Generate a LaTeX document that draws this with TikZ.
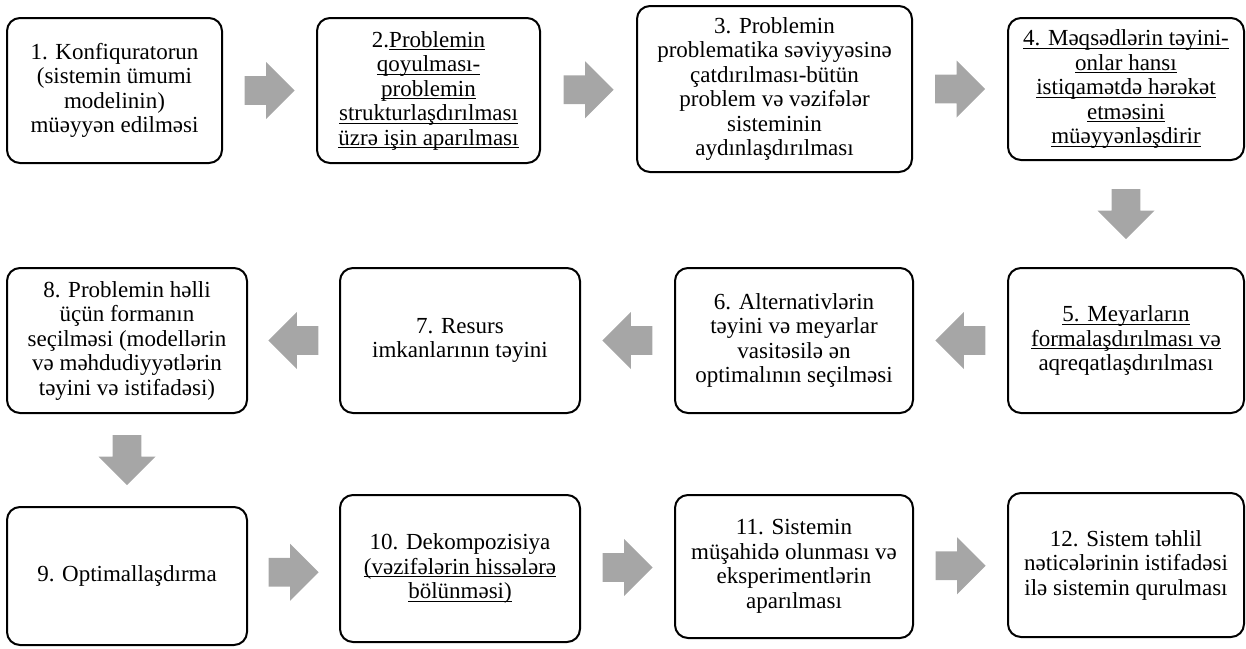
\documentclass[tikz,border=0pt]{standalone}
\usepackage{fontspec}
\setmainfont{Liberation Serif}
\usepackage{xcolor}
\usepackage{tikz}
\usetikzlibrary{shapes.arrows,calc}

\definecolor{arrowgray}{RGB}{166,166,166}
\newcommand{\ulin}[1]{\setbox0=\hbox{#1}\rlap{\rule[-3pt]{\wd0}{1pt}}\box0}

\begin{document}
\begin{tikzpicture}[x=1pt,y=-1pt,
  procbox/.style={draw,line width=2pt,rounded corners=13pt,align=center,
    inner sep=2pt,font=\fontsize{23}{24.5}\selectfont},
  blockarrow/.style={single arrow,fill=arrowgray,draw=none,inner sep=14pt,
    minimum height=50pt,minimum width=57pt,single arrow head extend=14pt,
    anchor=tail}]
  \useasboundingbox (0,0) rectangle (1246,648);
  % row 1
  \node[procbox,minimum width=215pt,minimum height=145pt] (b1) at (114.5,90.5)
    {1. Konfiquratorun\\(sistemin ümumi\\modelinin)\\müəyyən edilməsi};
  \node[procbox,minimum width=223pt,minimum height=145pt] (b2) at (428.5,90.5)
    {2.\ulin{Problemin}\\\ulin{qoyulması-}\\\ulin{problemin}\\\ulin{strukturlaşdırılması}\\\ulin{üzrə işin aparılması}};
  \node[procbox,minimum width=275pt,minimum height=166pt] (b3) at (774.5,89)
    {3. Problemin\\problematika səviyyəsinə\\çatdırılması-bütün\\problem və vəzifələr\\sisteminin\\aydınlaşdırılması};
  \node[procbox,minimum width=236pt,minimum height=142pt] (b4) at (1126,89)
    {\ulin{4. Məqsədlərin təyini-}\\\ulin{onlar hansı}\\\ulin{istiqamətdə hərəkət}\\\ulin{etməsini}\\\ulin{müəyyənləşdirir}};
  % row 2
  \node[procbox,minimum width=236pt,minimum height=145pt] (b5) at (1126,340.5)
    {\ulin{5. Meyarların}\\\ulin{formalaşdırılması və}\\aqreqatlaşdırılması};
  \node[procbox,minimum width=238pt,minimum height=145pt] (b6) at (794,340.5)
    {6. Alternativlərin\\təyini və meyarlar\\vasitəsilə ən\\optimalının seçilməsi};
  \node[procbox,minimum width=240pt,minimum height=145pt] (b7) at (460,340.5)
    {7. Resurs\\imkanlarının təyini};
  \node[procbox,minimum width=240pt,minimum height=145pt] (b8) at (127,340.5)
    {8. Problemin həlli\\üçün formanın\\seçilməsi (modellərin\\və məhdudiyyətlərin\\təyini və istifadəsi)};
  % row 3
  \node[procbox,minimum width=240pt,minimum height=138pt] (b9) at (127,576)
    {9. Optimallaşdırma};
  \node[procbox,minimum width=240pt,minimum height=147pt] (b10) at (460,568.5)
    {10. Dekompozisiya\\\ulin{(vəzifələrin hissələrə}\\\ulin{bölünməsi)}};
  \node[procbox,minimum width=238pt,minimum height=143pt] (b11) at (794,566.5)
    {11. Sistemin\\müşahidə olunması və\\eksperimentlərin\\aparılması};
  \node[procbox,minimum width=236pt,minimum height=144pt] (b12) at (1126,565)
    {12. Sistem təhlil\\nəticələrinin istifadəsi\\ilə sistemin qurulması};
  % arrows
  \foreach \a/\b in {b1/b2,b2/b3,b3/b4,b9/b10,b10/b11,b11/b12} {
    \node[blockarrow] at ($(\a.east)!0.5!(\b.west)+(-25,0)$) {};
  }
  \foreach \a/\b in {b5/b6,b6/b7,b7/b8} {
    \node[blockarrow,shape border rotate=180] at ($(\a.west)!0.5!(\b.east)+(25,0)$) {};
  }
  \foreach \a/\b in {b4/b5,b8/b9} {
    \node[blockarrow,shape border rotate=270] at ($(\a.south)!0.5!(\b.north)+(0,-25)$) {};
  }
\end{tikzpicture}
\end{document}
